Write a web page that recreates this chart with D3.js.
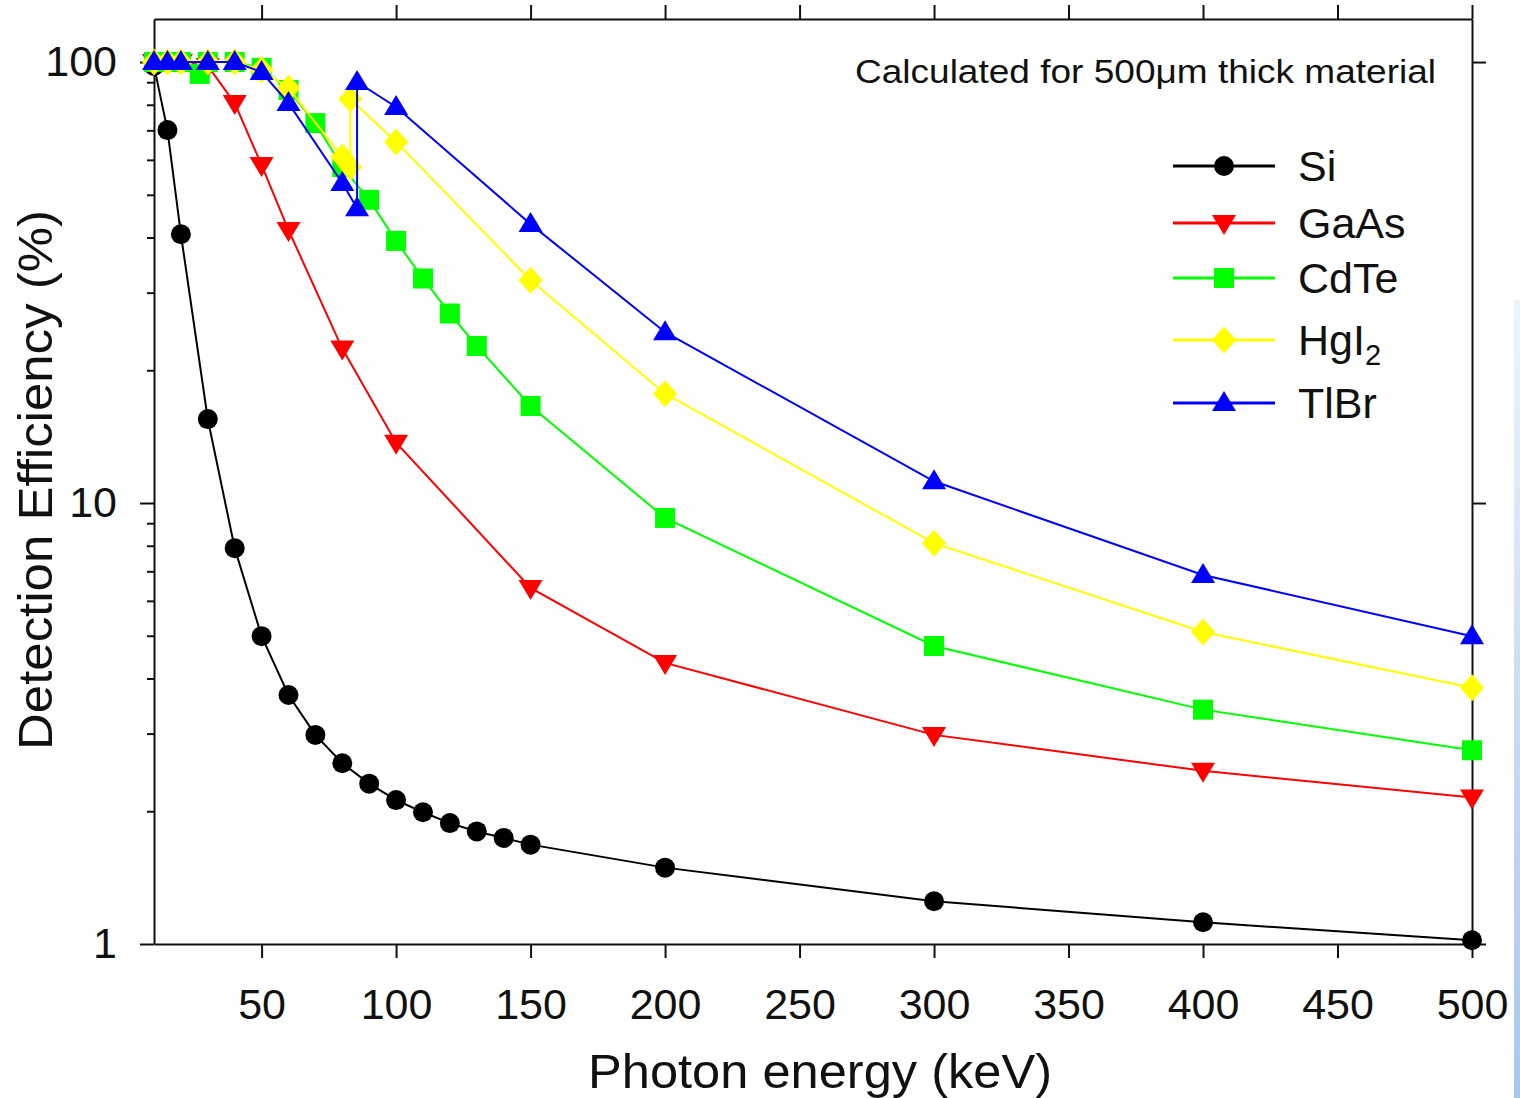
<!DOCTYPE html>
<html>
<head>
<meta charset="utf-8">
<script src="https://cdn.jsdelivr.net/npm/d3@7"></script>
<style>
  body { margin: 0; background: #fff; }
  svg { display: block; font-family: "Liberation Sans", Arial, sans-serif; }
  .axis path, .axis line { stroke: #111; stroke-width: 2; }
  .axis text { fill: #111; font-size: 43px; font-family: "Liberation Sans", Arial, sans-serif; }
</style>
</head>
<body>
<div id="chart"></div>
<script>
// data (energy in keV, efficiency in %)
var siEnergy   = [10, 15, 20, 30, 40, 50, 60, 70, 80, 90, 100, 110, 120, 130, 140, 150, 200, 300, 400, 500];
var siEff      = [98, 70.1, 40.7, 15.5, 7.9, 4.99, 3.67, 2.98, 2.57, 2.31, 2.12, 1.99, 1.88, 1.80, 1.74, 1.68, 1.49, 1.25, 1.12, 1.02];

var gaasEnergy = [10, 15, 20, 30, 40, 50, 60, 80, 100, 150, 200, 300, 400, 500];
var gaasEff    = [100, 100, 100, 98, 80.7, 58.4, 41.6, 22.4, 13.7, 6.42, 4.34, 2.98, 2.47, 2.15];

var cdteEnergy = [10, 15, 20, 27, 30, 40, 50, 60, 70, 80, 90, 100, 110, 120, 130, 150, 200, 300, 400, 500];
var cdteEff    = [100, 100, 100, 94, 100, 100, 97, 86.4, 72.7, 57.8, 48.7, 39.3, 32.3, 26.9, 22.7, 16.6, 9.25, 4.74, 3.40, 2.75];

var hgiEnergy  = [10, 15, 20, 30, 40, 50, 60, 80, 83, 83, 100, 150, 200, 300, 400, 500];
var hgiEff     = [100, 100, 100, 100, 100, 96, 87.3, 60.9, 57.8, 82.4, 65.9, 32.0, 17.7, 8.11, 5.10, 3.81];

var tlbrEnergy = [10, 15, 20, 30, 40, 50, 60, 80, 85.5, 85.5, 100, 150, 200, 300, 400, 500];
var tlbrEff    = [100, 100, 100, 100, 100, 94.9, 80.7, 53.2, 46.6, 90.1, 79.1, 42.9, 24.4, 11.2, 6.87, 4.99];

var xTicks = [50, 100, 150, 200, 250, 300, 350, 400, 450, 500];
var yTicks = [1, 10, 100];

var seriesNames = ["Si", "GaAs", "CdTe", "HgI2", "TlBr"];
var seriesColors = ["#000000", "#ff0000", "#00ff00", "#ffff00", "#0000ff"];

var W = 1520, H = 1098;
var margin = { top: 19, right: 48, bottom: 154, left: 154 };

var x = d3.scaleLinear().domain([10, 500]).range([margin.left, W - margin.right]);
var y = d3.scaleLog().domain([1, 125.2]).range([H - margin.bottom, margin.top]);

// custom marker shapes
var diamond = {
  draw: function (ctx, size) {
    var w = 12, h = 13.5;
    ctx.moveTo(0, -h); ctx.lineTo(w, 0); ctx.lineTo(0, h); ctx.lineTo(-w, 0); ctx.closePath();
  }
};
var triUp = {
  draw: function (ctx, size) {
    ctx.moveTo(0, -12); ctx.lineTo(12, 8); ctx.lineTo(-12, 8); ctx.closePath();
  }
};
var triDown = {
  draw: function (ctx, size) {
    ctx.moveTo(0, 12); ctx.lineTo(12, -8); ctx.lineTo(-12, -8); ctx.closePath();
  }
};
var square = {
  draw: function (ctx, size) { ctx.rect(-10, -10, 20, 20); }
};
var circle = {
  draw: function (ctx, size) { ctx.moveTo(10, 0); ctx.arc(0, 0, 10, 0, 2 * Math.PI); }
};
var shapes = [circle, triDown, square, diamond, triUp];

var series = [
  { e: siEnergy, v: siEff },
  { e: gaasEnergy, v: gaasEff },
  { e: cdteEnergy, v: cdteEff },
  { e: hgiEnergy, v: hgiEff },
  { e: tlbrEnergy, v: tlbrEff }
].map(function (s, i) {
  return {
    name: seriesNames[i],
    color: seriesColors[i],
    shape: shapes[i],
    points: s.e.map(function (d, j) { return { x: d, y: s.v[j] }; })
  };
});

var svg = d3.select("#chart").append("svg").attr("width", W).attr("height", H);

// slide background sliver on the right edge
var grad = svg.append("defs").append("linearGradient")
  .attr("id", "edge").attr("x1", 0).attr("y1", 0).attr("x2", 0).attr("y2", 1);
grad.append("stop").attr("offset", "0%").attr("stop-color", "#eef4fb");
grad.append("stop").attr("offset", "100%").attr("stop-color", "#a9c6ea");
svg.append("rect").attr("x", 1514).attr("y", 300).attr("width", 6).attr("height", H - 300)
  .attr("fill", "url(#edge)");

// axes
var fmt = d3.format("d");
var gBottom = svg.append("g").attr("class", "axis")
  .attr("transform", "translate(0," + y(1) + ")")
  .call(d3.axisBottom(x).tickValues(xTicks).tickSize(14).tickSizeOuter(0).tickFormat(fmt));
gBottom.selectAll("text").attr("y", 75).attr("dy", 0);

svg.append("g").attr("class", "axis")
  .attr("transform", "translate(0," + margin.top + ")")
  .call(d3.axisTop(x).tickValues(xTicks).tickSize(14).tickSizeOuter(0).tickFormat(""));

var gLeft = svg.append("g").attr("class", "axis")
  .attr("transform", "translate(" + margin.left + ",0)")
  .call(d3.axisLeft(y).tickValues(yTicks).tickSize(14).tickPadding(23).tickSizeOuter(0).tickFormat(fmt));

var minor = [];
[1, 10, 100].forEach(function (dec) {
  for (var k = 2; k <= 9; k++) if (dec * k < 125) minor.push(dec * k);
});
svg.append("g").attr("class", "axis")
  .attr("transform", "translate(" + margin.left + ",0)")
  .call(d3.axisLeft(y).tickValues(minor).tickSize(7).tickSizeOuter(0).tickFormat(""))
  .select(".domain").remove();

svg.append("g").attr("class", "axis")
  .attr("transform", "translate(" + (W - margin.right) + ",0)")
  .call(d3.axisRight(y).tickValues(yTicks).tickSize(14).tickSizeOuter(0).tickFormat(""));

// lines and markers
var line = d3.line().x(function (d) { return x(d.x); }).y(function (d) { return y(d.y); });

series.forEach(function (s) {
  var g = svg.append("g");
  g.append("path").datum(s.points)
    .attr("d", line)
    .attr("fill", "none")
    .attr("stroke", s.color)
    .attr("stroke-width", 2);
  g.selectAll("path.mk").data(s.points).enter().append("path")
    .attr("class", "mk")
    .attr("transform", function (d) { return "translate(" + x(d.x) + "," + y(d.y) + ")"; })
    .attr("d", d3.symbol().type(s.shape))
    .attr("fill", s.color);
});

// legend
var legendY = [166, 223, 278, 340, 403];
series.forEach(function (s, i) {
  var g = svg.append("g").attr("transform", "translate(0," + legendY[i] + ")");
  g.append("line").attr("x1", 1173).attr("x2", 1275).attr("y1", 0).attr("y2", 0)
    .attr("stroke", s.color).attr("stroke-width", 3);
  g.append("path").attr("transform", "translate(1224,0)")
    .attr("d", d3.symbol().type(s.shape)).attr("fill", s.color);
  var t = g.append("text").attr("x", 1298).attr("y", 15)
    .attr("font-size", 43).attr("fill", "#111");
  if (s.name === "HgI2") {
    t.append("tspan").text("HgI");
    t.append("tspan").attr("font-size", 29).attr("dy", 10).text("2");
  } else {
    t.text(s.name);
  }
});

// annotation
svg.append("text").attr("x", 855).attr("y", 83)
  .attr("font-size", 34).attr("fill", "#111")
  .attr("textLength", 581).attr("lengthAdjust", "spacingAndGlyphs")
  .text("Calculated for 500\u03bcm thick material");

// axis titles
svg.append("text").attr("x", 588).attr("y", 1088)
  .attr("font-size", 49).attr("fill", "#111")
  .attr("textLength", 464).attr("lengthAdjust", "spacingAndGlyphs")
  .text("Photon energy (keV)");
svg.append("text").attr("transform", "translate(52,750) rotate(-90)")
  .attr("font-size", 49).attr("fill", "#111")
  .attr("textLength", 540).attr("lengthAdjust", "spacingAndGlyphs")
  .text("Detection Efficiency (%)");
</script>
</body>
</html>
